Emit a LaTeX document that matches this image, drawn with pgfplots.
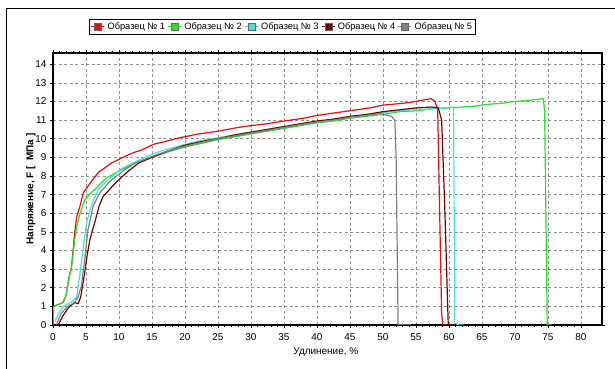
\documentclass[border=0pt]{standalone}
\usepackage{fontspec}
\setmainfont{Liberation Sans}
\usepackage{pgfplots}
\pgfplotsset{compat=1.18}
\definecolor{cA}{RGB}{224,16,16}
\definecolor{cB}{RGB}{40,222,40}
\definecolor{cC}{RGB}{70,226,226}
\definecolor{cD}{RGB}{112,0,0}
\definecolor{cE}{RGB}{128,128,128}
\begin{document}
\begin{tikzpicture}
\useasboundingbox (0,0) rectangle (615bp,369bp);
\draw[black,line width=0.8bp] (6bp,0) -- (6bp,361bp) -- (615bp,361bp);
\begin{axis}[
  at={(53bp,44bp)}, anchor=south west,
  scale only axis, width=549bp, height=272bp,
  xmin=0, xmax=83.2, ymin=0, ymax=14.6,
  xtick={0,5,...,80}, ytick={0,1,...,14},
  minor x tick num=4,
  tick align=outside,
  major tick length=3bp, minor tick length=2bp,
  every tick/.style={black,line width=0.5bp},
  grid=major,
  major grid style={gray!85, line width=0.6bp, dash pattern=on 3bp off 2.5bp},
  axis line style={black,line width=1.1bp},
  tick label style={font=\fontsize{10}{12}\selectfont},
  xticklabel style={yshift=-2bp},
  /pgf/number format/assume math mode=true,
  xlabel={Удлинение, \%},
  ylabel={\textbf{Напряжение, F [ \ МПа ]}},
  label style={font=\fontsize{10}{12}\selectfont},
  xlabel style={at={(axis description cs:0.497,0)}, anchor=north, yshift=-19bp},
  ylabel style={at={(axis description cs:0,0.5)}, anchor=south, yshift=14bp},
  legend columns=5,
  legend style={at={(axis description cs:0.418,1.097)}, anchor=center,
    draw=black, line width=0.6bp, font=\fontsize{9.3}{11}\selectfont,
    inner xsep=1.5bp, inner ysep=1.5bp, column sep=0.5bp},
  legend image code/.code={
    \draw[#1,line width=1.2bp] (0bp,0bp) -- (13bp,0bp);
    \draw[#1,fill,draw=black!60,line width=0.4bp] (3bp,-3.5bp) rectangle (10bp,3.5bp);
  },
  clip=true,
]
\addplot[cA, line width=1.2bp] coordinates {
(0,0) (0.1,1.0) (0.8,1.1) (1.5,1.2) (2.0,1.6) (2.4,2.5) (2.8,3.1) (3.1,4.2) (3.3,5.0) (3.6,5.8) (4.1,6.4) (4.6,7.1) (5.6,7.6) (6.9,8.2) (8.9,8.7) (11.2,9.1) (12.2,9.25) (13.5,9.4) (15.2,9.7) (17,9.85) (19.2,10.05) (22,10.25) (25,10.4) (28,10.6) (30,10.7) (32.4,10.8) (35,10.95) (38,11.1) (40,11.25) (43,11.4) (45,11.5) (48,11.65) (50,11.8) (53,11.9) (55,12.0) (56.5,12.1) (57.3,12.15) (57.9,12.0) (58.3,11.5) (58.6,6) (58.9,0.6) (59.1,0) (60,0)
};
\addlegendentry{Образец № 1}
\addplot[cB, line width=1.2bp] coordinates {
(0,0) (0.1,1.0) (0.8,1.1) (1.5,1.2) (2.0,1.6) (2.4,2.5) (2.8,3.1) (3.1,4.0) (3.3,4.6) (3.6,5.3) (4.1,6.0) (4.8,6.7) (5.5,7.0) (6.4,7.3) (8.1,7.9) (10.2,8.3) (12.5,8.7) (15,9.0) (17.5,9.3) (20,9.55) (22.5,9.75) (25,9.95) (27.5,10.1) (30,10.25) (32.5,10.4) (35,10.55) (37.5,10.7) (40,10.85) (42.5,10.95) (45,11.1) (47.5,11.2) (50,11.3) (52.5,11.45) (55,11.5) (57.5,11.6) (60,11.65) (62,11.7) (64,11.75) (66,11.85) (68,11.9) (70,12.0) (72,12.05) (74.3,12.15) (74.5,11.5) (74.7,6) (74.9,0) (75.6,0)
};
\addlegendentry{Образец № 2}
\addplot[cC, line width=1.2bp] coordinates {
(0.3,0.2) (0.8,0.6) (1.6,1.0) (2.8,1.25) (3.6,1.5) (4.1,2.8) (4.6,4.2) (5.1,5.5) (5.9,6.5) (6.9,7.3) (8.4,7.8) (10.4,8.4) (12.7,8.8) (15.2,9.2) (17.5,9.45) (20,9.7) (22.5,9.9) (25,10.05) (27.5,10.2) (30,10.35) (32.5,10.5) (35,10.65) (37.5,10.8) (40,10.9) (42.5,11.05) (45,11.15) (47.5,11.3) (50,11.4) (52.5,11.5) (55,11.55) (57.5,11.6) (59,11.65) (60.7,11.7) (60.8,6) (60.9,0.1) (61.5,0) (62.3,0)
};
\addlegendentry{Образец № 3}
\addplot[cD, line width=1.2bp] coordinates {
(0.8,0) (1.5,0.5) (2.5,1.0) (3.3,1.2) (3.8,1.15) (4.2,1.5) (4.8,2.8) (5.2,3.8) (5.6,4.6) (6.4,5.6) (7.0,6.4) (7.6,6.9) (9.4,7.6) (11.2,8.2) (13,8.7) (15,9.0) (17.5,9.35) (20,9.65) (22.5,9.85) (25,10.0) (27.5,10.2) (30,10.35) (32.5,10.5) (35,10.65) (37.5,10.8) (40,10.95) (42.5,11.05) (45,11.2) (47.5,11.3) (50,11.45) (52.5,11.55) (55,11.65) (57.4,11.7) (58.4,11.65) (58.9,11) (59.4,6) (59.9,0) (61,0)
};
\addlegendentry{Образец № 4}
\addplot[cE, line width=1.2bp] coordinates {
(0.5,0) (1.2,0.6) (2.2,1.0) (3.2,1.2) (3.8,1.5) (4.3,2.1) (4.8,3.5) (5.3,5.1) (6.1,6.4) (7.1,7.1) (8.6,7.7) (10.7,8.3) (12.5,8.7) (15,9.05) (17.5,9.35) (20,9.6) (22.5,9.8) (25,10.0) (27.5,10.15) (30,10.3) (32.5,10.45) (35,10.6) (37.5,10.75) (40,10.9) (42.5,11.0) (45,11.15) (47.5,11.25) (49.5,11.35) (51.3,11.2) (51.8,11.0) (52.0,9) (52.3,0) (54.3,0)
};
\addlegendentry{Образец № 5}
\end{axis}
\end{tikzpicture}
\end{document}
